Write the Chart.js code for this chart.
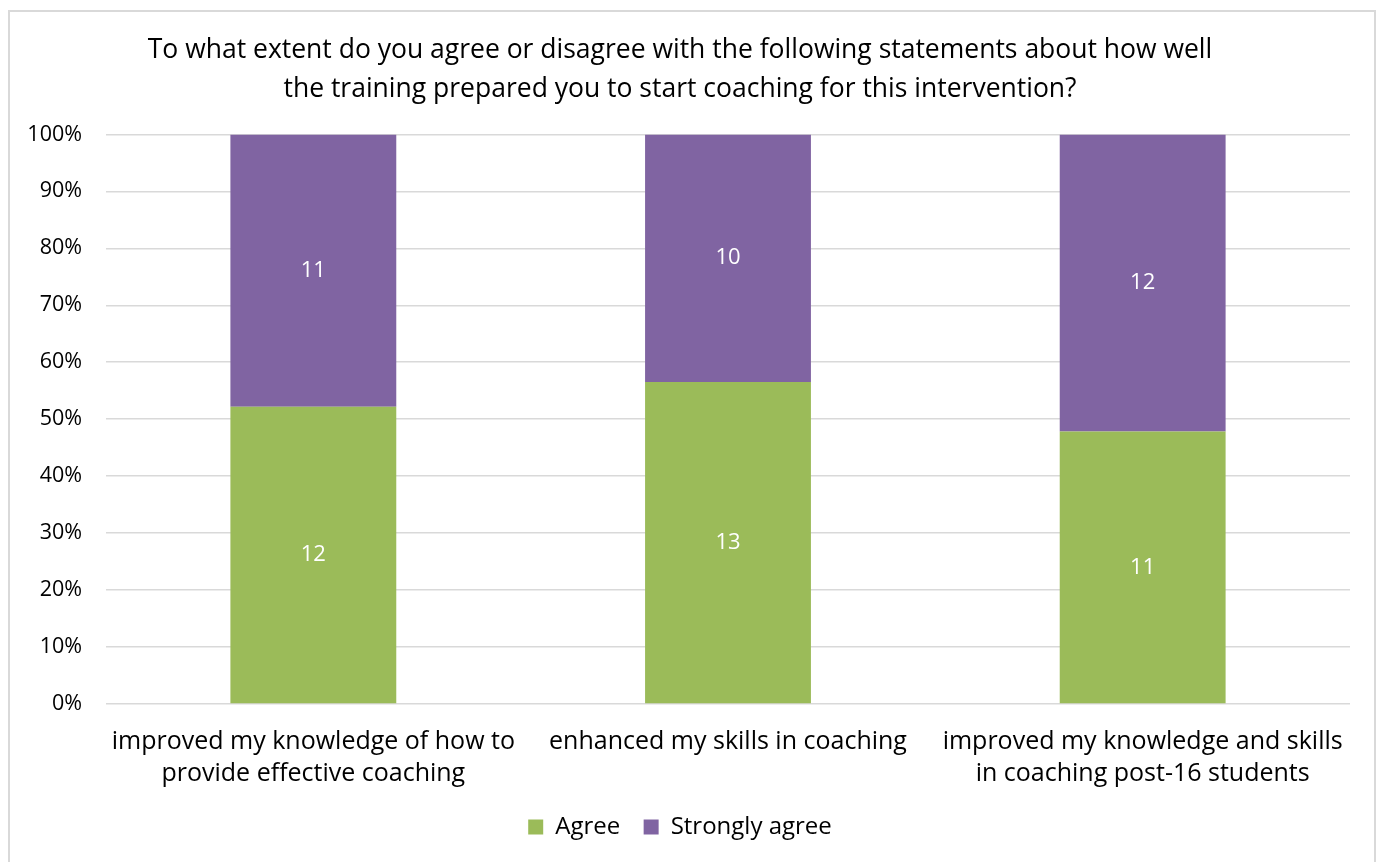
<!DOCTYPE html>
<html>
<head>
<meta charset="utf-8">
<script src="https://cdn.jsdelivr.net/npm/chart.js@4.4.1/dist/chart.umd.min.js"></script>
<style>
  body { margin: 0; background: #fff; }
  #frame {
    position: absolute; left: 8px; top: 10px;
    width: 1368px; height: 870px;
    border: 2px solid #d9d9d9; box-sizing: border-box;
  }
  #wrap { position: absolute; left: 0; top: 0; width: 1366px; height: 866px; }
</style>
</head>
<body>
<div id="frame"><div id="wrap"><canvas id="chart"></canvas></div></div>
<script>
// Chart data
const categories = [
    ['improved my knowledge of how to', 'provide effective coaching'],
    'enhanced my skills in coaching',
    ['improved my knowledge and skills', 'in coaching post-16 students']
];
const agreeCounts = [12, 13, 11];
const stronglyAgreeCounts = [11, 10, 12];
const yTicks = [0, 10, 20, 30, 40, 50, 60, 70, 80, 90, 100];

const totals = agreeCounts.map((v, i) => v + stronglyAgreeCounts[i]);
const toPct = arr => arr.map((v, i) => v / totals[i] * 100);

const FONT = "'Open Sans', 'Liberation Sans', sans-serif";

// draw the raw counts in the middle of each segment
const countLabels = {
    id: 'countLabels',
    afterDatasetsDraw(chart) {
        const ctx = chart.ctx;
        ctx.save();
        ctx.fillStyle = '#ffffff';
        ctx.font = '22px ' + FONT;
        ctx.textAlign = 'center';
        ctx.textBaseline = 'middle';
        chart.data.datasets.forEach((ds, di) => {
            chart.getDatasetMeta(di).data.forEach((bar, i) => {
                const p = bar.getCenterPoint();
                ctx.fillText(ds.counts[i], p.x, p.y);
            });
        });
        ctx.restore();
    }
};

new Chart(document.getElementById('chart').getContext('2d'), {
    type: 'bar',
    data: {
        labels: categories,
        datasets: [
            {
                label: 'Agree',
                data: toPct(agreeCounts),
                counts: agreeCounts,
                backgroundColor: '#9bbb59',
                categoryPercentage: 1,
                barPercentage: 0.4
            },
            {
                label: 'Strongly agree',
                data: toPct(stronglyAgreeCounts),
                counts: stronglyAgreeCounts,
                backgroundColor: '#8064a2',
                categoryPercentage: 1,
                barPercentage: 0.4
            }
        ]
    },
    options: {
        responsive: true,
        maintainAspectRatio: false,
        animation: false,
        layout: { padding: { left: 0, right: 26, top: 11, bottom: 29 } },
        plugins: {
            title: {
                display: true,
                text: ['To what extent do you agree or disagree with the following statements about how well',
                       'the training prepared you to start coaching for this intervention?'],
                color: '#000',
                font: { family: FONT, size: 26.5, weight: 'normal', lineHeight: 1.46 },
                padding: { top: 8, bottom: 26 }
            },
            legend: {
                position: 'bottom',
                labels: {
                    color: '#000',
                    font: { family: FONT, size: 24 },
                    boxWidth: 15, boxHeight: 15,
                    padding: 11,
                    // wider gap between the two legend entries
                    generateLabels: chart => {
                        const items = Chart.defaults.plugins.legend.labels.generateLabels(chart);
                        items.forEach((it, i) => { if (i < items.length - 1) it.text += '  '; });
                        return items;
                    }
                }
            },
            tooltip: { enabled: false }
        },
        scales: {
            x: {
                stacked: true,
                grid: { display: false },
                border: { display: false },
                ticks: {
                    color: '#000',
                    font: { family: FONT, size: 25, lineHeight: 1.28 },
                    maxRotation: 0, autoSkip: false, padding: 14
                }
            },
            y: {
                stacked: true,
                min: 0, max: 100,
                afterBuildTicks: axis => { axis.ticks = yTicks.map(v => ({ value: v })); },
                afterFit: axis => { axis.width = 96; },
                grid: { color: '#d9d9d9', lineWidth: 1.5, drawTicks: false },
                border: { display: false },
                ticks: {
                    color: '#000',
                    font: { family: FONT, size: 21.5 },
                    padding: 24,
                    callback: v => v + '%'
                }
            }
        }
    },
    plugins: [countLabels]
});
</script>
</body>
</html>
